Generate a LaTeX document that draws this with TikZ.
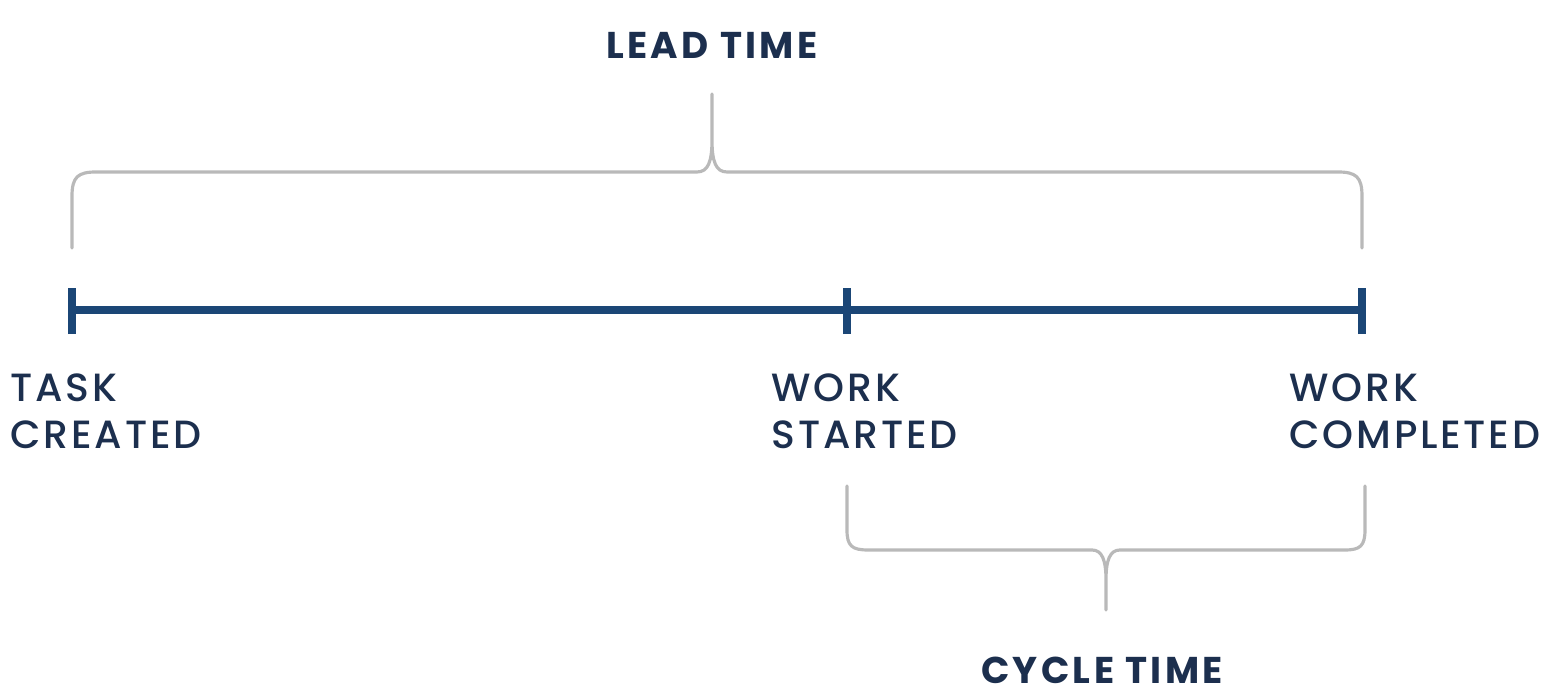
\documentclass[tikz,border=0pt]{standalone}
\usepackage{fontspec}
\setmainfont{Poppins}
\newfontfamily\eventfont{Poppins Medium}[LetterSpace=7]
\newfontfamily\headfont{Poppins}[LetterSpace=9]
\definecolor{navy}{HTML}{1B4676}
\definecolor{inkblue}{HTML}{1C2F4E}
\definecolor{bracegray}{HTML}{B9B9B9}
\tikzset{% common styles of the timeline picture
  timeline/.style = {draw=navy, line width=2.4pt},
  tickmark/.style = {draw=navy, line width=2.4pt},
  bracket/.style  = {draw=bracegray, line width=0.9pt, line cap=round},
  event/.style    = {inner sep=0pt, align=left, anchor=north west, text=inkblue,
                     font=\eventfont\fontsize{11.2}{13.4}\selectfont},
  heading/.style  = {inner sep=0pt, text=inkblue,
                     font=\headfont\bfseries\fontsize{10.6}{13}\selectfont},
}
\begin{document}
\begin{tikzpicture}[x=0.01cm, y=-0.01cm]
    \useasboundingbox (0,0) rectangle (1547,692);
    % points on the time axis
    \coordinate (created)   at (72,310);
    \coordinate (started)   at (847,310);
    \coordinate (completed) at (1362,310);
    \draw [timeline] (created) -- (completed);
    \foreach \p in {created, started, completed}
        \draw [tickmark] ([yshift=-0.24cm]\p) -- ([yshift=0.22cm]\p);
    % labels under the axis
    \node [event] (taskcreated)   at (10,373)   {TASK\\CREATED};
    \node [event] (workstarted)   at (771,373)  {WORK\\STARTED};
    \node [event] (workcompleted) at (1289,373) {WORK\\COMPLETED};
    % lead time brace
    \draw [bracket] (72,248) -- (72,196) .. controls (72,177) and (78,172) .. (96,172)
        -- (697,172) .. controls (708,172) and (712,162) .. (712,140) -- (712,94)
        (712,140) .. controls (712,162) and (716,172) .. (727,172)
        -- (1338,172) .. controls (1356,172) and (1362,177) .. (1362,196) -- (1362,248);
    \node [heading] (leadtime) at (712,45) {LEAD TIME};
    % cycle time brace
    \draw [bracket] (847,486) -- (847,530) .. controls (847,546) and (852,550) .. (868,550)
        -- (1092,550) .. controls (1102,550) and (1106,560) .. (1106,580) -- (1106,610)
        (1106,580) .. controls (1106,560) and (1110,550) .. (1120,550)
        -- (1345,550) .. controls (1360,550) and (1365,546) .. (1365,530) -- (1365,486);
    \node [heading] (cycletime) at (1102,670) {CYCLE TIME};
\end{tikzpicture}
\end{document}
